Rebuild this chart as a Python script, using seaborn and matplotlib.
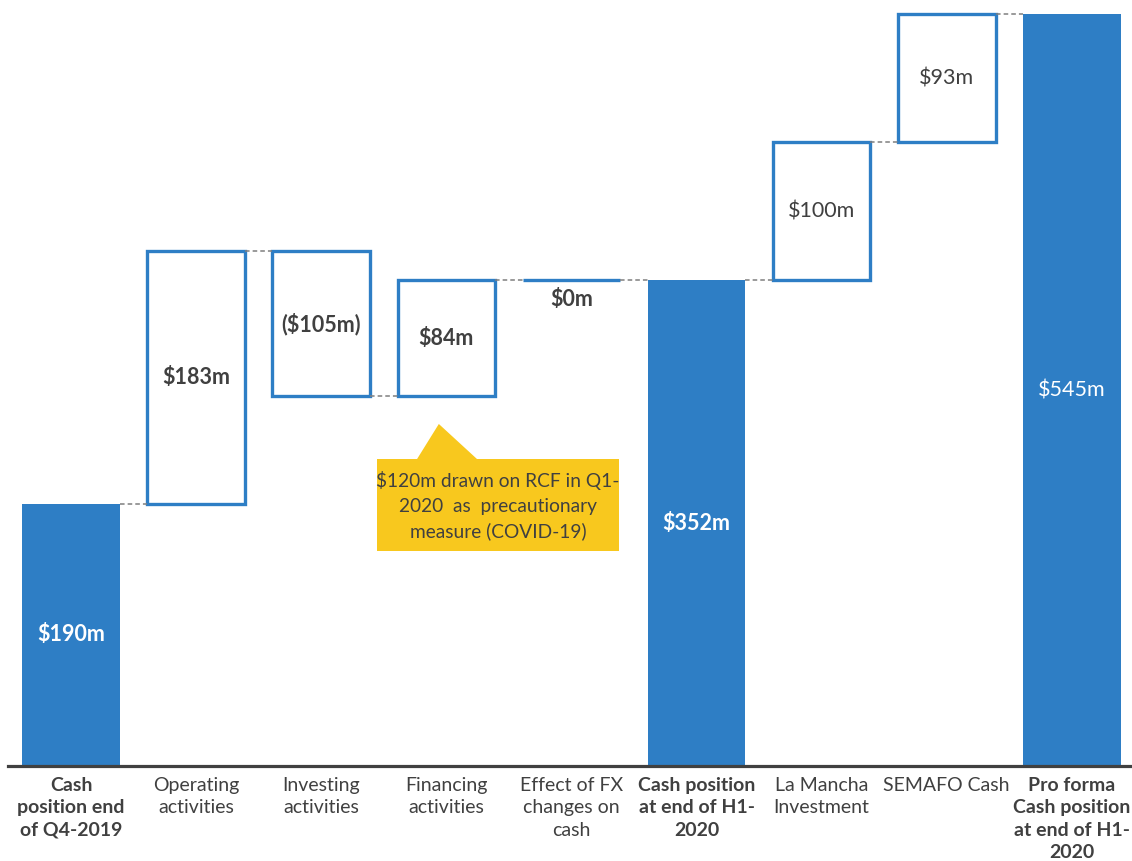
import matplotlib
matplotlib.use("Agg")
import matplotlib.pyplot as plt
from matplotlib import font_manager
from matplotlib.patches import Polygon, Rectangle
import seaborn as sns
import pandas as pd

# ---- data -----------------------------------------------------------------
categories = [
    "Cash position end of Q4-2019",
    "Operating activities",
    "Investing activities",
    "Financing activities",
    "Effect of FX changes on cash",
    "Cash position at end of H1-2020",
    "La Mancha Investment",
    "SEMAFO Cash",
    "Pro forma Cash position at end of H1-2020",
]
tick_labels = [
    "Cash\nposition end\nof Q4-2019",
    "Operating\nactivities",
    "Investing\nactivities",
    "Financing\nactivities",
    "Effect of FX\nchanges on\ncash",
    "Cash position\nat end of H1-\n2020",
    "La Mancha\nInvestment",
    "SEMAFO Cash",
    "Pro forma\nCash position\nat end of H1-\n2020",
]
kinds = ["total", "change", "change", "change", "change",
         "total", "change", "change", "total"]
values = [190, 183, -105, 84, 0, 352, 100, 93, 545]
value_labels = ["$190m", "$183m", "($105m)", "$84m", "$0m",
                "$352m", "$100m", "$93m", "$545m"]
bold_values = [True, True, True, True, True, True, False, False, False]
bold_ticks = [True, False, False, False, False, True, False, False, True]
note_text = "$120m drawn on RCF in Q1-\n2020  as  precautionary\nmeasure (COVID-19)"

# ---- waterfall geometry from the values ------------------------------------
bottoms, heights, levels = [], [], []
running = 0
for kind, v in zip(kinds, values):
    if kind == "total":
        bottoms.append(0)
        heights.append(v)
        running = v
    else:
        bottoms.append(min(running, running + v))
        heights.append(abs(v))
        running += v
    levels.append(running)

df = pd.DataFrame({"category": categories, "height": heights,
                   "bottom": bottoms, "kind": kinds})

# ---- style -----------------------------------------------------------------
BLUE = "#2E7EC5"
DARK = "#404040"
YELLOW = "#F8C81E"
BAR_W = 0.78

sns.set_style("white")
installed = {f.name for f in font_manager.fontManager.ttflist}
main_font = "Lato" if "Lato" in installed else "DejaVu Sans"
plt.rcParams["font.family"] = [main_font, "DejaVu Sans"]

fig = plt.figure(figsize=(11.32, 8.61), dpi=100)
ax = fig.add_axes([8 / 1132, 95 / 861, 1 - 8 / 1132, 1 - 95 / 861])

# totals: solid bars
sns.barplot(data=df[df.kind == "total"], x="category", y="height",
            order=categories, color=BLUE, saturation=1, width=BAR_W,
            linewidth=0, ax=ax)
n_total = len(ax.patches)

# changes: hollow floating bars
sns.barplot(data=df[df.kind == "change"], x="category", y="height",
            order=categories, color="white", saturation=1, width=BAR_W,
            edgecolor=BLUE, linewidth=2.4, ax=ax)
for p in ax.patches[n_total:]:
    idx = int(round(p.get_x() + p.get_width() / 2))
    p.set_y(bottoms[idx])

# dashed connectors between neighbouring bars
for i in range(len(categories) - 1):
    ax.plot([i + BAR_W / 2, i + 1 - BAR_W / 2], [levels[i], levels[i]],
            color="#7F7F7F", lw=1.1, ls=(0, (3, 2)), zorder=1)

# value labels
for i, (kind, lab, b) in enumerate(zip(kinds, value_labels, bold_values)):
    color = "white" if kind == "total" else DARK
    weight = "bold" if b else "normal"
    if heights[i] == 0:
        ax.annotate(lab, (i, bottoms[i]), xytext=(0, -6),
                    textcoords="offset points", ha="center", va="top",
                    fontsize=15.5, fontweight=weight, color=color)
    else:
        ax.text(i, bottoms[i] + heights[i] / 2, lab, ha="center",
                va="center", fontsize=15.5, fontweight=weight, color=color,
                zorder=5)

# callout note under the financing bar
box_x0, box_x1, box_y0, box_y1 = 2.446, 4.38, 155.8, 222.5
ax.add_patch(Rectangle((box_x0, box_y0), box_x1 - box_x0, box_y1 - box_y0,
                       facecolor=YELLOW, edgecolor="none", zorder=3))
ax.add_patch(Polygon([(2.766, box_y1), (2.94, 247.9), (3.245, box_y1)],
                     closed=True, facecolor=YELLOW, edgecolor="none",
                     zorder=3))
ax.text((box_x0 + box_x1) / 2, (box_y0 + box_y1) / 2 - 0.5, note_text,
        ha="center", va="center", fontsize=13.8, color=DARK,
        linespacing=1.55, zorder=4)

# axes cosmetics
ax.set_xlim(-0.504, 8.481)
ax.set_ylim(0, 555.2)
ax.set_yticks([])
ax.set_xlabel("")
ax.set_ylabel("")
ax.set_xticks(range(len(categories)))
ax.set_xticklabels(tick_labels, fontsize=14, color=DARK, linespacing=1.38,
                   va="top")
for t, b in zip(ax.get_xticklabels(), bold_ticks):
    if b:
        t.set_fontweight("bold")
ax.tick_params(axis="x", length=0, pad=8)
for side in ["top", "left", "right"]:
    ax.spines[side].set_visible(False)
ax.spines["bottom"].set_color(DARK)
ax.spines["bottom"].set_linewidth(2.3)
ax.spines["bottom"].set_zorder(6)

fig.savefig("out.png", dpi=100, facecolor="white")
